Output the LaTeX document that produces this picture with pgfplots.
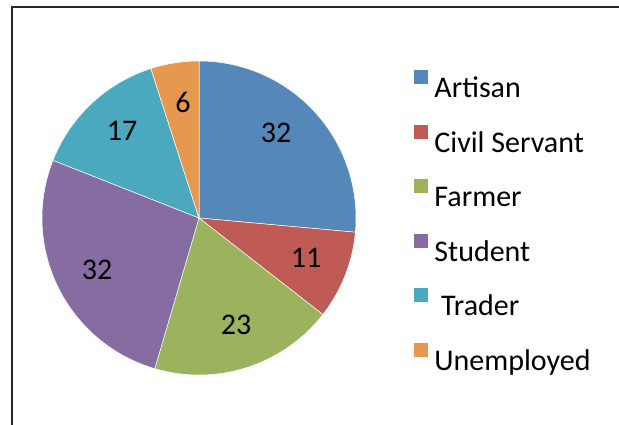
\documentclass[border=0pt]{standalone}
\usepackage{fontspec}
\setmainfont{Carlito}
\usepackage{pgfplots}
\pgfplotsset{compat=1.18}
\definecolor{cArt}{HTML}{5587B9}
\definecolor{cCiv}{HTML}{BF5B54}
\definecolor{cFar}{HTML}{9CB35E}
\definecolor{cStu}{HTML}{866CA1}
\definecolor{cTra}{HTML}{4AA9BF}
\definecolor{cUne}{HTML}{E7984F}
\begin{document}
\begin{tikzpicture}
\begin{axis}[
  scale only axis, width=619pt, height=425pt,
  xmin=0, xmax=619, ymin=0, ymax=425,
  hide axis, clip=false,
  legend cell align=left,
  legend style={at={(axis cs:414,355)}, anchor=north west, draw=none, fill=none,
    font=\fontsize{30}{36}\selectfont, inner sep=0pt, row sep=20pt,
    nodes={inner sep=0pt, text height=20pt, text depth=7pt},
    /tikz/every odd column/.append style={column sep=6pt}},
  legend image code/.code={\path (0pt,0pt); \fill[#1,draw=none] (0pt,7pt) rectangle (14pt,21pt);},
]
\pgfmathsetmacro\total{32+11+23+32+17+6}
\def\cum{0}
\pgfplotsforeachungrouped \val/\col in {32/cArt, 11/cCiv, 23/cFar, 32/cStu, 17/cTra, 6/cUne}{
  \pgfmathsetmacro\aS{90-\cum/\total*360}
  \pgfmathsetmacro\newcum{\cum+\val}
  \pgfmathsetmacro\aE{90-\newcum/\total*360}
  \let\cum\newcum
  \edef\temp{\noexpand\addplot[fill=\col, draw=white, line width=0.5pt, domain=\aE:\aS, samples=90, variable=\noexpand\t]
    ({199+157*cos(\noexpand\t)},{207+157*sin(\noexpand\t)}) -- (axis cs:199,207) -- cycle;}
  \temp
}
\legend{Artisan, Civil Servant, Farmer, Student, {\ Trader}, Unemployed}
\node[font=\fontsize{30}{36}\selectfont] at (axis cs:276,292) {32};
\node[font=\fontsize{30}{36}\selectfont] at (axis cs:306,167) {11};
\node[font=\fontsize{30}{36}\selectfont] at (axis cs:236,100) {23};
\node[font=\fontsize{30}{36}\selectfont] at (axis cs:97,155) {32};
\node[font=\fontsize{30}{36}\selectfont] at (axis cs:122,294) {17};
\node[font=\fontsize{30}{36}\selectfont] at (axis cs:183,323) {6};
\draw[line width=2pt, color=black!85] (axis cs:12,0) -- (axis cs:12,417.5) -- (axis cs:619,417.5);
\end{axis}
\pgfresetboundingbox
\useasboundingbox (0,0) rectangle (619pt,425pt);
\end{tikzpicture}
\end{document}
